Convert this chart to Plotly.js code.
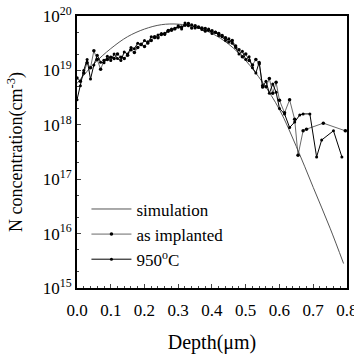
<!DOCTYPE html>
<html>
<head>
<meta charset="utf-8">
<script src="https://cdn.plot.ly/plotly-3.0.1.min.js"></script>
<style>html,body{margin:0;padding:0;background:#fff;}#chart{width:354px;height:354px;}</style>
</head>
<body>
<div id="chart"></div>
<script>
// Simulation curve: depth (um) and log10 of N concentration (cm^-3)
const simDepth = [0.00,0.05,0.10,0.15,0.20,0.25,0.30,0.35,0.40,0.45,0.50,0.55,0.60,0.65,0.70,0.75,0.79];
const simLog   = [18.76,19.12,19.40,19.62,19.76,19.84,19.85,19.80,19.68,19.48,19.18,18.78,18.28,17.60,16.85,16.10,15.45];

// As implanted
const impDepth = [0.00,0.01,0.02,0.03,0.04,0.05,0.06,0.07,0.08,0.09,0.10,0.11,0.12,0.13,0.14,0.15,0.16,0.17,0.18,0.19,
  0.20,0.21,0.22,0.23,0.24,0.25,0.26,0.27,0.28,0.29,0.30,0.31,0.32,0.33,0.34,0.35,0.36,0.37,0.38,0.39,
  0.40,0.41,0.42,0.43,0.44,0.45,0.46,0.47,0.48,0.49,0.50,0.51,0.52,0.53,0.54,0.55,0.56,0.57,0.58,0.59,
  0.60,0.615,0.63,0.645,0.655,0.67,0.68,0.73,0.795];
const impLog = [18.86,18.80,18.95,19.14,19.05,19.36,19.20,19.02,19.18,19.20,19.24,19.22,19.30,19.24,19.22,19.28,19.38,19.33,19.42,19.48,
  19.44,19.52,19.55,19.62,19.60,19.66,19.68,19.72,19.74,19.77,19.80,19.80,19.83,19.86,19.78,19.82,19.80,19.78,19.77,19.74,
  19.73,19.70,19.68,19.64,19.60,19.52,19.55,19.45,19.38,19.25,19.30,19.18,19.10,19.20,19.12,18.72,18.70,18.85,18.58,18.78,
  18.45,18.22,18.46,18.10,17.44,17.89,17.92,18.03,17.89];

// 950 oC anneal
const annDepth = [0.00,0.01,0.02,0.03,0.04,0.05,0.06,0.07,0.08,0.09,0.10,0.11,0.12,0.13,0.14,0.15,0.16,0.17,0.18,0.19,
  0.20,0.21,0.22,0.23,0.24,0.25,0.26,0.27,0.28,0.29,0.30,0.31,0.32,0.33,0.34,0.35,0.36,0.37,0.38,0.39,
  0.40,0.41,0.42,0.43,0.44,0.45,0.46,0.47,0.48,0.49,0.50,0.51,0.52,0.53,0.54,0.55,0.56,0.57,0.58,0.59,
  0.60,0.615,0.63,0.645,0.66,0.67,0.69,0.71,0.725,0.76,0.785];
const annLog = [18.46,18.72,19.00,19.20,18.84,19.10,19.28,19.15,19.14,19.26,19.18,19.30,19.22,19.18,19.34,19.30,19.42,19.40,19.50,19.47,
  19.55,19.50,19.62,19.60,19.65,19.68,19.66,19.74,19.76,19.76,19.82,19.76,19.87,19.82,19.84,19.78,19.79,19.75,19.72,19.76,
  19.68,19.70,19.64,19.62,19.55,19.58,19.50,19.42,19.30,19.35,19.20,19.25,19.05,18.95,19.15,18.69,18.80,18.58,18.75,18.60,
  18.30,18.20,17.95,18.05,18.18,18.20,18.20,17.41,17.72,17.89,17.41];

// Axis ticks
const xTickVals = [0.0,0.1,0.2,0.3,0.4,0.5,0.6,0.7,0.8];
const xTickText = ['0.0','0.1','0.2','0.3','0.4','0.5','0.6','0.7','0.8'];
const yTickVals = [1e15,1e16,1e17,1e18,1e19,1e20];
const yTickText = ['10<sup>15</sup>','10<sup>16</sup>','10<sup>17</sup>','10<sup>18</sup>','10<sup>19</sup>','10<sup>20</sup>'];
const legendNames = ['simulation','as implanted','950<sup>o</sup>C'];

const pow10 = a => a.map(v => Math.pow(10, v));
const font = 'Liberation Serif';

const traces = [
  {x: simDepth, y: pow10(simLog), name: legendNames[0], mode: 'lines', line: {color: '#555', width: 1, shape: 'spline'}, legendgroup: 'a'},
  {x: impDepth, y: pow10(impLog), name: legendNames[1], mode: 'lines+markers', line: {color: '#444', width: 0.8}, marker: {color: '#000', size: 3.5}, legendgroup: 'b'},
  {x: annDepth, y: pow10(annLog), name: legendNames[2], mode: 'lines+markers', line: {color: '#000', width: 1}, marker: {color: '#000', size: 3}, legendgroup: 'c'}
];

const layout = {
  width: 354, height: 354,
  margin: {l: 77, r: 7, t: 16, b: 66},
  paper_bgcolor: '#fff', plot_bgcolor: '#fff',
  font: {family: font, color: '#000', size: 16},
  showlegend: true,
  legend: {x: 0.035, y: 0.355, xanchor: 'left', yanchor: 'top', bgcolor: 'rgba(0,0,0,0)', font: {family: font, size: 17},
           traceorder: 'grouped', tracegroupgap: 0, itemwidth: 40},
  xaxis: {
    range: [0, 0.8001], tickvals: xTickVals, ticktext: xTickText, ticklabeloverflow: 'allow',
    ticks: 'inside', ticklen: 4, tickwidth: 1, ticklabelstandoff: 6,
    minor: {dtick: 0.02, ticks: 'inside', ticklen: 2, showgrid: false},
    showline: true, linewidth: 2, linecolor: '#000', mirror: true,
    showgrid: false, zeroline: false,
    tickfont: {family: font, size: 17},
    title: {text: 'Depth(μm)', font: {family: font, size: 20}, standoff: 18}
  },
  yaxis: {
    type: 'log', range: [15, 20],
    tickvals: yTickVals, ticktext: yTickText,
    ticks: 'inside', ticklen: 4, tickwidth: 1,
    minor: {ticks: 'inside', ticklen: 2, showgrid: false},
    showline: true, linewidth: 2, linecolor: '#000', mirror: true,
    showgrid: false, zeroline: false,
    tickfont: {family: font, size: 17},
    title: {text: 'N concentration(cm<sup>-3</sup>)', font: {family: font, size: 18}, standoff: 15}
  }
};

Plotly.newPlot('chart', traces, layout, {displayModeBar: false, staticPlot: true});
</script>
</body>
</html>
